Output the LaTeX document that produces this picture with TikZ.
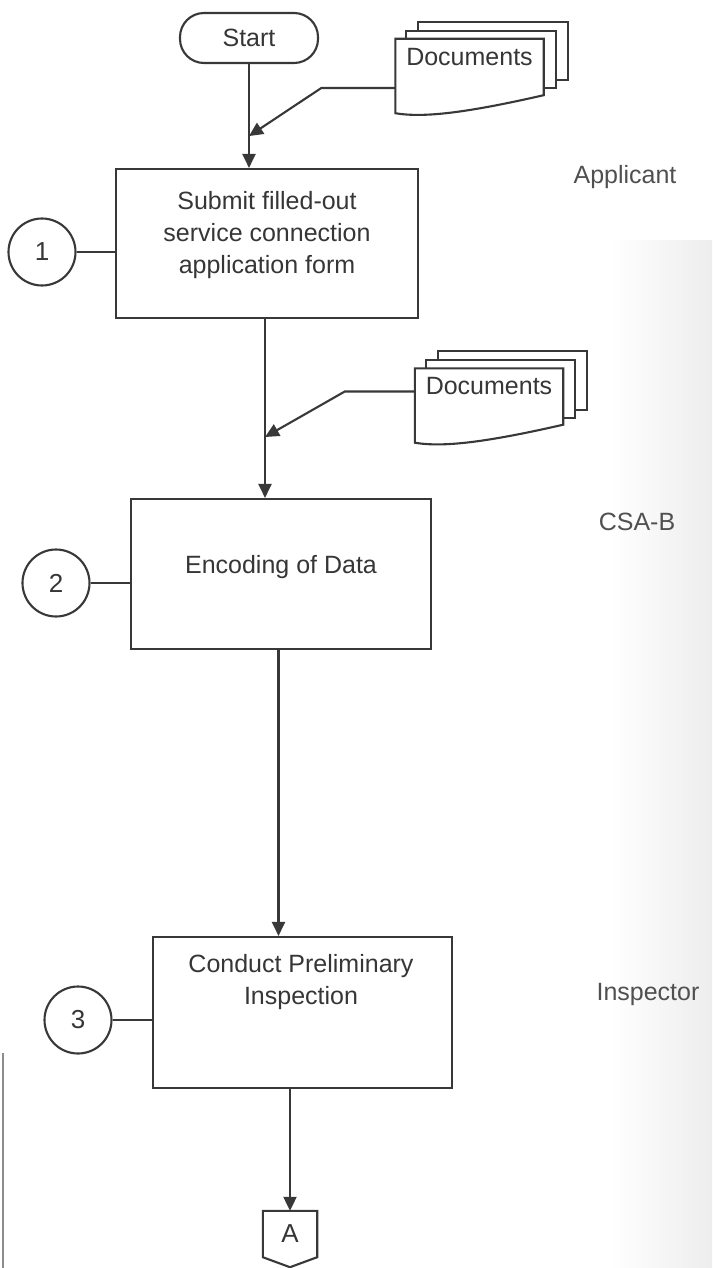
\documentclass[tikz,border=0pt]{standalone}
\usepackage{fontspec}
\setmainfont{Liberation Sans}
\usetikzlibrary{arrows.meta,calc}

\definecolor{ink}{HTML}{383838}
\definecolor{txt}{HTML}{363636}
\definecolor{lane}{HTML}{505050}

% Stack of three document sheets behind a named front sheet node
\newcommand{\docstack}[1]{%
  \draw[lin, fill=white] ($(#1.north west)+(23,-17)$) rectangle ($(#1.south east)+(24,-33)$);
  \draw[lin, fill=white] ($(#1.north west)+(11,-8)$) rectangle ($(#1.south east)+(12,-25)$);
  \draw[lin, fill=white] (#1.south west) -- (#1.north west) -- (#1.north east)
    -- ($(#1.south east)+(0,-18)$)
    .. controls ($(#1.south west)+(74,-1)$) and ($(#1.south west)+(29,5)$) .. (#1.south west)
    -- cycle;
}

\begin{document}
\begin{tikzpicture}[x=1pt,y=-1pt,
  lin/.style={draw=ink, line width=2.1pt},
  flow/.style={lin, -{Triangle[length=14pt,width=13pt]}},
  stepbox/.style={lin, rectangle, minimum width=300pt, minimum height=150pt, inner sep=0pt},
  boxtext/.style={text=txt, font=\fontsize{25}{32}\selectfont, align=center, inner sep=0pt},
  terminal/.style={lin, rectangle, rounded corners=24pt, minimum width=138pt,
    minimum height=50pt, inner sep=0pt, text=txt, font=\fontsize{25}{30}\selectfont},
  numcirc/.style={lin, circle, minimum size=67pt, inner sep=0pt, text=txt,
    font=\fontsize{26}{30}\selectfont},
  docsheet/.style={rectangle, minimum width=148pt, minimum height=74pt, inner sep=0pt},
  offpage/.style={rectangle, minimum width=54pt, minimum height=46pt, inner sep=0pt,
    text=txt, font=\fontsize{26}{30}\selectfont},
  lanetext/.style={text=lane, font=\fontsize{25}{30}\selectfont, inner sep=0pt},
]
\useasboundingbox (0,0) rectangle (712,1268);
\fill[white] (0,0) rectangle (712,1268);
\shade[left color=white, right color=black!7] (610,240) rectangle (712,1268);

% left page edge
\draw[draw=black!45, line width=1.5pt] (3,1053) -- (3,1268);

% process steps
\node[terminal] (start) at (249,38) {Start};
\node[stepbox, minimum width=302pt, minimum height=149pt] (box1) at (267,243.5) {};
\node[boxtext] (t1) at (267,235) {Submit filled-out\\service connection\\application form};
\node[stepbox] (box2) at (281,574) {};
\node[boxtext] (t2) at (281,567) {Encoding of Data};
\node[stepbox, minimum width=299pt, minimum height=151pt] (box3) at (302.5,1012.5) {};
\node[boxtext] (t3) at (301,982) {Conduct Preliminary\\Inspection};
\node[offpage] (A) at (290,1234) {A};
\draw[lin] (A.north west) -- (A.north east) -- (A.south east)
  -- ($(A.south)+(0,10)$) -- (A.south west) -- cycle;

% step numbers
\node[numcirc] (n1) at (42,252) {1};
\node[numcirc] (n2) at (56,583) {2};
\node[numcirc] (n3) at (78,1020) {3};
\draw[lin] (n1.east) -- (n1.east -| box1.west);
\draw[lin] (n2.east) -- (n2.east -| box2.west);
\draw[lin] (n3.east) -- (n3.east -| box3.west);

% documents
\node[docsheet] (doc1) at (469.5,76) {};
\node[docsheet] (doc2) at (489,405.5) {};
\docstack{doc1}
\docstack{doc2}
\node[boxtext] (doc1t) at ($(doc1.center)+(0,-19)$) {Documents};
\node[boxtext] (doc2t) at ($(doc2.center)+(0,-19)$) {Documents};

% flow
\coordinate (j1) at ($(start.south)+(0,72)$);
\coordinate (j2) at (265,437);
\coordinate (in3) at ($(box3.north)+(-24,0)$);
\draw[flow] (start.south) -- (start.south |- box1.north);
\draw[flow] ($(doc1.west)+(0,12)$) -- ++(-74,0) -- (j1);
\draw[flow] (box1.south -| j2) -- (box2.north -| j2);
\draw[flow] ($(doc2.west)+(0,-14)$) -- ++(-70,0) -- (j2);
\draw[flow] (box2.south -| in3) -- (in3);
\draw[flow] (box3.south -| A.north) -- (A.north);

% responsible parties
\node[lanetext] (applicant) at (625,177) {Applicant};
\node[lanetext] (csab) at (637,522) {CSA-B};
\node[lanetext] (inspector) at (648,994) {Inspector};
\end{tikzpicture}
\end{document}
